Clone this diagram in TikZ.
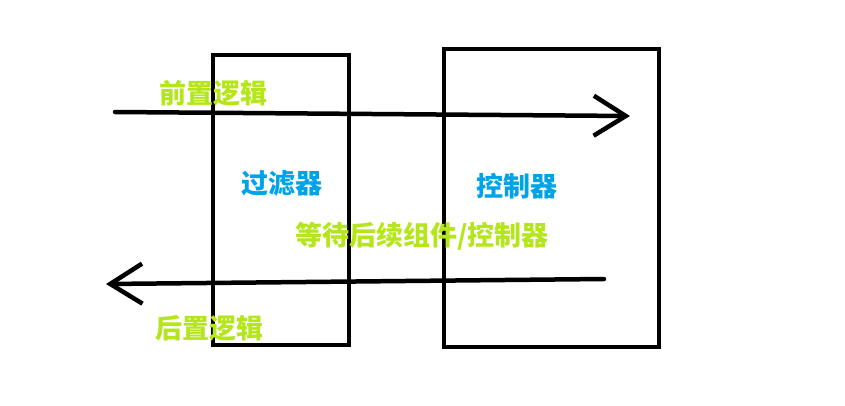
\documentclass[tikz,border=0pt]{standalone}
\usepackage{fontspec}
\usepackage{xcolor}
\usetikzlibrary{arrows.meta}
\newfontfamily\cjk{Noto Sans CJK SC}
\definecolor{limegreen}{HTML}{B5E61D}
\definecolor{paintblue}{HTML}{00A2E8}

\begin{document}
\begin{tikzpicture}[x=1pt,y=-1pt,line width=4pt,
  box/.style={draw,rectangle,inner sep=0pt},
  greentxt/.style={text=limegreen,font=\cjk\bfseries\fontsize{27}{27}\selectfont,inner sep=0pt},
  bluetxt/.style={text=paintblue,font=\cjk\bfseries\fontsize{27}{27}\selectfont,inner sep=0pt},
  barb/.style={-{Straight Barb[length=32pt,width=40pt]}}]
\useasboundingbox (0,0) rectangle (845,405);
% the two boxes
\node[box,minimum width=136pt,minimum height=290pt] (filter) at (281,200) {};
\node[box,minimum width=215pt,minimum height=298pt] (ctrl) at (551.5,198) {};
% texts
\node[greentxt] (pre) at (213,93) {前置逻辑};
\node[bluetxt] (filtertxt) at (282,183) {过滤器};
\node[bluetxt] (ctrltxt) at (517,186) {控制器};
\node[greentxt] (wait) at (422,236) {等待后续组件/控制器};
\node[greentxt] (post) at (209,328) {后置逻辑};
% arrows
\coordinate (inL) at (115,112);
\coordinate (inR) at (630,116);
\coordinate (outR) at (604,279);
\coordinate (outL) at (106,284);
\draw[barb,line width=4.5pt,line cap=round] (inL) -- (inR);
\draw[barb,line width=4.5pt,line cap=round] (outR) -- (outL);
\end{tikzpicture}
\end{document}
